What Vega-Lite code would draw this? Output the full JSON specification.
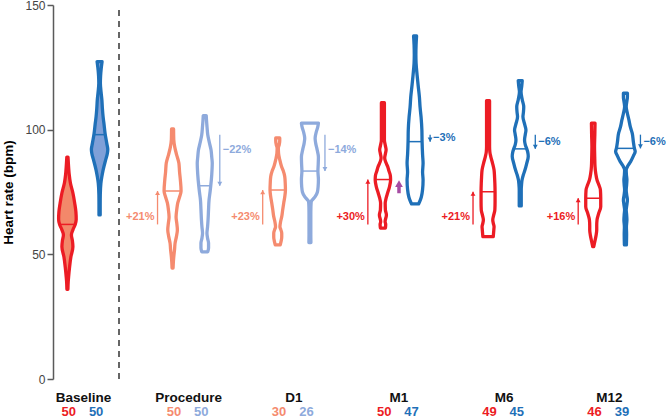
{
  "$schema": "https://vega.github.io/schema/vega-lite/v6.json",
  "width": 613,
  "height": 374,
  "autosize": {"type": "none"},
  "padding": {"left": 53, "top": 5, "right": 0, "bottom": 40},
  "config": {
    "view": {"stroke": null},
    "font": "Liberation Sans",
    "axisY": {"grid": false, "domainColor": "#5a5a5a", "domainWidth": 1.5, "tickColor": "#5a5a5a", "tickWidth": 1.5, "tickSize": 6, "labelFontSize": 12, "labelColor": "#444444", "labelPadding": 2, "titleFontSize": 13.5, "titleFontWeight": "bold", "titleColor": "#000000", "titlePadding": 9}
  },
  "datasets": {
    "violins": [
      {"g":"Baseline","s":"R","hr":36,"w":0.5},{"g":"Baseline","s":"R","hr":39,"w":0.8},{"g":"Baseline","s":"R","hr":41,"w":1.2},{"g":"Baseline","s":"R","hr":45,"w":2.2},{"g":"Baseline","s":"R","hr":49,"w":3.5},{"g":"Baseline","s":"R","hr":53,"w":5.5},{"g":"Baseline","s":"R","hr":55.5,"w":5},{"g":"Baseline","s":"R","hr":57.8,"w":4},{"g":"Baseline","s":"R","hr":59.8,"w":5.5},{"g":"Baseline","s":"R","hr":62,"w":7.8},{"g":"Baseline","s":"R","hr":64,"w":8.8},{"g":"Baseline","s":"R","hr":67,"w":8.5},{"g":"Baseline","s":"R","hr":70.5,"w":7.3},{"g":"Baseline","s":"R","hr":74.6,"w":5.5},{"g":"Baseline","s":"R","hr":78.6,"w":3},{"g":"Baseline","s":"R","hr":82,"w":1.8},{"g":"Baseline","s":"R","hr":85,"w":1.2},{"g":"Baseline","s":"R","hr":89,"w":0.6},
      {"g":"Baseline","s":"B","hr":65.8,"w":0.6},{"g":"Baseline","s":"B","hr":70,"w":0.6},{"g":"Baseline","s":"B","hr":74,"w":0.7},{"g":"Baseline","s":"B","hr":78.5,"w":1.3},{"g":"Baseline","s":"B","hr":81,"w":2.2},{"g":"Baseline","s":"B","hr":83.8,"w":3.5},{"g":"Baseline","s":"B","hr":87.8,"w":6},{"g":"Baseline","s":"B","hr":90.5,"w":7.8},{"g":"Baseline","s":"B","hr":92,"w":8.2},{"g":"Baseline","s":"B","hr":94.5,"w":7.2},{"g":"Baseline","s":"B","hr":98.5,"w":5.5},{"g":"Baseline","s":"B","hr":102,"w":4.5},{"g":"Baseline","s":"B","hr":105.2,"w":3.5},{"g":"Baseline","s":"B","hr":108.5,"w":2.8},{"g":"Baseline","s":"B","hr":111.9,"w":2.3},{"g":"Baseline","s":"B","hr":115,"w":1.5},{"g":"Baseline","s":"B","hr":118.6,"w":0.8},{"g":"Baseline","s":"B","hr":121.5,"w":1},{"g":"Baseline","s":"B","hr":124,"w":1.5},{"g":"Baseline","s":"B","hr":127.3,"w":2.5},
      {"g":"Procedure","s":"R","hr":44.5,"w":0.5},{"g":"Procedure","s":"R","hr":47,"w":0.8},{"g":"Procedure","s":"R","hr":49,"w":1.2},{"g":"Procedure","s":"R","hr":52,"w":2},{"g":"Procedure","s":"R","hr":54.5,"w":2.5},{"g":"Procedure","s":"R","hr":57,"w":3.8},{"g":"Procedure","s":"R","hr":59.8,"w":4.8},{"g":"Procedure","s":"R","hr":62.5,"w":4.2},{"g":"Procedure","s":"R","hr":65,"w":3.5},{"g":"Procedure","s":"R","hr":68,"w":4.2},{"g":"Procedure","s":"R","hr":70.6,"w":5.2},{"g":"Procedure","s":"R","hr":73,"w":7},{"g":"Procedure","s":"R","hr":75.4,"w":8.5},{"g":"Procedure","s":"R","hr":79.8,"w":7.8},{"g":"Procedure","s":"R","hr":83,"w":7},{"g":"Procedure","s":"R","hr":86.6,"w":6.3},{"g":"Procedure","s":"R","hr":90,"w":4},{"g":"Procedure","s":"R","hr":93,"w":2.2},{"g":"Procedure","s":"R","hr":96,"w":1.2},{"g":"Procedure","s":"R","hr":100.3,"w":1},
      {"g":"Procedure","s":"B","hr":51,"w":3},{"g":"Procedure","s":"B","hr":52.5,"w":3.8},{"g":"Procedure","s":"B","hr":54.5,"w":3.8},{"g":"Procedure","s":"B","hr":56.5,"w":2.8},{"g":"Procedure","s":"B","hr":58.5,"w":2.2},{"g":"Procedure","s":"B","hr":61,"w":2.8},{"g":"Procedure","s":"B","hr":63.8,"w":3.3},{"g":"Procedure","s":"B","hr":68,"w":3.8},{"g":"Procedure","s":"B","hr":71.8,"w":4.3},{"g":"Procedure","s":"B","hr":75,"w":5.3},{"g":"Procedure","s":"B","hr":77.5,"w":6},{"g":"Procedure","s":"B","hr":82,"w":7},{"g":"Procedure","s":"B","hr":86.6,"w":7.5},{"g":"Procedure","s":"B","hr":89,"w":7},{"g":"Procedure","s":"B","hr":91.8,"w":6.3},{"g":"Procedure","s":"B","hr":95,"w":4.5},{"g":"Procedure","s":"B","hr":98,"w":3},{"g":"Procedure","s":"B","hr":101,"w":2.3},{"g":"Procedure","s":"B","hr":103.5,"w":1.8},{"g":"Procedure","s":"B","hr":105.6,"w":1.5},
      {"g":"D1","s":"R","hr":53.8,"w":2.5},{"g":"D1","s":"R","hr":55.5,"w":3.5},{"g":"D1","s":"R","hr":57,"w":4},{"g":"D1","s":"R","hr":58.5,"w":4},{"g":"D1","s":"R","hr":60,"w":3},{"g":"D1","s":"R","hr":61,"w":2.2},{"g":"D1","s":"R","hr":63,"w":2.8},{"g":"D1","s":"R","hr":65.1,"w":4},{"g":"D1","s":"R","hr":68,"w":5},{"g":"D1","s":"R","hr":70.6,"w":6},{"g":"D1","s":"R","hr":73,"w":7},{"g":"D1","s":"R","hr":75.8,"w":7.7},{"g":"D1","s":"R","hr":78.5,"w":7.5},{"g":"D1","s":"R","hr":81.2,"w":7},{"g":"D1","s":"R","hr":83.5,"w":5.5},{"g":"D1","s":"R","hr":85.2,"w":3.8},{"g":"D1","s":"R","hr":88,"w":2},{"g":"D1","s":"R","hr":90.6,"w":0.8},{"g":"D1","s":"R","hr":92.6,"w":0.6},{"g":"D1","s":"R","hr":94,"w":1.5},{"g":"D1","s":"R","hr":95.5,"w":2},{"g":"D1","s":"R","hr":96.7,"w":2},
      {"g":"D1","s":"B","hr":54.7,"w":1},{"g":"D1","s":"B","hr":58,"w":0.9},{"g":"D1","s":"B","hr":62,"w":0.9},{"g":"D1","s":"B","hr":66,"w":0.9},{"g":"D1","s":"B","hr":69,"w":1},{"g":"D1","s":"B","hr":71.1,"w":1.3},{"g":"D1","s":"B","hr":73.1,"w":5.2},{"g":"D1","s":"B","hr":75,"w":7.5},{"g":"D1","s":"B","hr":77.1,"w":8.2},{"g":"D1","s":"B","hr":80,"w":8.5},{"g":"D1","s":"B","hr":83.4,"w":8},{"g":"D1","s":"B","hr":86,"w":8.3},{"g":"D1","s":"B","hr":89,"w":8.5},{"g":"D1","s":"B","hr":92,"w":7.2},{"g":"D1","s":"B","hr":94.5,"w":5.8},{"g":"D1","s":"B","hr":96.6,"w":5.2},{"g":"D1","s":"B","hr":99,"w":6.3},{"g":"D1","s":"B","hr":101,"w":7.8},{"g":"D1","s":"B","hr":102.6,"w":8.5},
      {"g":"M1","s":"R","hr":60.5,"w":2.5},{"g":"M1","s":"R","hr":62,"w":2.8},{"g":"M1","s":"R","hr":63.1,"w":2.2},{"g":"M1","s":"R","hr":65.8,"w":3.5},{"g":"M1","s":"R","hr":67.8,"w":2.5},{"g":"M1","s":"R","hr":70.6,"w":2.3},{"g":"M1","s":"R","hr":72.5,"w":3.2},{"g":"M1","s":"R","hr":74.6,"w":4.7},{"g":"M1","s":"R","hr":77,"w":6.5},{"g":"M1","s":"R","hr":79.8,"w":7.7},{"g":"M1","s":"R","hr":81.5,"w":7.5},{"g":"M1","s":"R","hr":83.5,"w":6},{"g":"M1","s":"R","hr":85.2,"w":4.8},{"g":"M1","s":"R","hr":87,"w":2.8},{"g":"M1","s":"R","hr":88.6,"w":1.8},{"g":"M1","s":"R","hr":90.3,"w":2.5},{"g":"M1","s":"R","hr":91.9,"w":3.2},{"g":"M1","s":"R","hr":93.5,"w":2.5},{"g":"M1","s":"R","hr":95.9,"w":1.5},{"g":"M1","s":"R","hr":100,"w":1.5},{"g":"M1","s":"R","hr":105,"w":1.5},{"g":"M1","s":"R","hr":110.8,"w":1.5},
      {"g":"M1","s":"B","hr":70.2,"w":3.5},{"g":"M1","s":"B","hr":71.5,"w":5},{"g":"M1","s":"B","hr":73.1,"w":6.3},{"g":"M1","s":"B","hr":76,"w":7.5},{"g":"M1","s":"B","hr":79.8,"w":8},{"g":"M1","s":"B","hr":83,"w":7.5},{"g":"M1","s":"B","hr":86.6,"w":8},{"g":"M1","s":"B","hr":90,"w":7.5},{"g":"M1","s":"B","hr":95.2,"w":7},{"g":"M1","s":"B","hr":99.9,"w":6.8},{"g":"M1","s":"B","hr":105,"w":6},{"g":"M1","s":"B","hr":109,"w":5},{"g":"M1","s":"B","hr":113.2,"w":4.3},{"g":"M1","s":"B","hr":118,"w":3},{"g":"M1","s":"B","hr":122,"w":2},{"g":"M1","s":"B","hr":126.7,"w":1},{"g":"M1","s":"B","hr":130,"w":0.8},{"g":"M1","s":"B","hr":134,"w":1},{"g":"M1","s":"B","hr":137.6,"w":1.5},
      {"g":"M6","s":"R","hr":57.1,"w":5.2},{"g":"M6","s":"R","hr":58.5,"w":5.5},{"g":"M6","s":"R","hr":60,"w":5.8},{"g":"M6","s":"R","hr":61.1,"w":6},{"g":"M6","s":"R","hr":62.5,"w":5.2},{"g":"M6","s":"R","hr":63.8,"w":4.7},{"g":"M6","s":"R","hr":65.5,"w":5.5},{"g":"M6","s":"R","hr":67.8,"w":6.8},{"g":"M6","s":"R","hr":71,"w":7},{"g":"M6","s":"R","hr":75.1,"w":7},{"g":"M6","s":"R","hr":78.5,"w":6.8},{"g":"M6","s":"R","hr":81,"w":6.5},{"g":"M6","s":"R","hr":83.8,"w":6},{"g":"M6","s":"R","hr":86.5,"w":4.5},{"g":"M6","s":"R","hr":89.2,"w":2.7},{"g":"M6","s":"R","hr":91,"w":1.8},{"g":"M6","s":"R","hr":93.2,"w":1.5},{"g":"M6","s":"R","hr":100,"w":1.5},{"g":"M6","s":"R","hr":106,"w":1.5},{"g":"M6","s":"R","hr":111.6,"w":1.5},
      {"g":"M6","s":"B","hr":69.4,"w":1},{"g":"M6","s":"B","hr":72,"w":1},{"g":"M6","s":"B","hr":75.8,"w":1},{"g":"M6","s":"B","hr":78,"w":1.3},{"g":"M6","s":"B","hr":79.8,"w":1.8},{"g":"M6","s":"B","hr":82,"w":3.2},{"g":"M6","s":"B","hr":83.8,"w":4.7},{"g":"M6","s":"B","hr":86.5,"w":6.5},{"g":"M6","s":"B","hr":89.2,"w":8},{"g":"M6","s":"B","hr":91,"w":7.5},{"g":"M6","s":"B","hr":92.3,"w":6.5},{"g":"M6","s":"B","hr":94,"w":5},{"g":"M6","s":"B","hr":95.9,"w":4.3},{"g":"M6","s":"B","hr":98,"w":5},{"g":"M6","s":"B","hr":99.9,"w":5.7},{"g":"M6","s":"B","hr":102,"w":4.5},{"g":"M6","s":"B","hr":105.2,"w":2.7},{"g":"M6","s":"B","hr":107,"w":3.2},{"g":"M6","s":"B","hr":109.2,"w":3.5},{"g":"M6","s":"B","hr":112,"w":2},{"g":"M6","s":"B","hr":115.2,"w":0.8},{"g":"M6","s":"B","hr":117.5,"w":1.5},{"g":"M6","s":"B","hr":119.7,"w":2},
      {"g":"M12","s":"R","hr":53.1,"w":0.5},{"g":"M12","s":"R","hr":55,"w":1.5},{"g":"M12","s":"R","hr":57.5,"w":2.8},{"g":"M12","s":"R","hr":59.8,"w":3.5},{"g":"M12","s":"R","hr":61.5,"w":3.5},{"g":"M12","s":"R","hr":63.8,"w":3.8},{"g":"M12","s":"R","hr":66.5,"w":5.5},{"g":"M12","s":"R","hr":69.1,"w":7.5},{"g":"M12","s":"R","hr":72.5,"w":7.5},{"g":"M12","s":"R","hr":75.8,"w":7.2},{"g":"M12","s":"R","hr":78,"w":5.5},{"g":"M12","s":"R","hr":79.8,"w":3.8},{"g":"M12","s":"R","hr":82.5,"w":2.5},{"g":"M12","s":"R","hr":85.2,"w":1.8},{"g":"M12","s":"R","hr":89,"w":1.5},{"g":"M12","s":"R","hr":93.2,"w":1.3},{"g":"M12","s":"R","hr":98,"w":1.6},{"g":"M12","s":"R","hr":102.6,"w":1.8},
      {"g":"M12","s":"B","hr":53.8,"w":1},{"g":"M12","s":"B","hr":58,"w":1.2},{"g":"M12","s":"B","hr":61,"w":1},{"g":"M12","s":"B","hr":63.8,"w":1.5},{"g":"M12","s":"B","hr":66,"w":1.2},{"g":"M12","s":"B","hr":67.8,"w":0.8},{"g":"M12","s":"B","hr":70,"w":1.5},{"g":"M12","s":"B","hr":71.8,"w":2},{"g":"M12","s":"B","hr":73.8,"w":1.3},{"g":"M12","s":"B","hr":75.8,"w":0.8},{"g":"M12","s":"B","hr":77.8,"w":1.2},{"g":"M12","s":"B","hr":79.8,"w":1.5},{"g":"M12","s":"B","hr":82,"w":1},{"g":"M12","s":"B","hr":83.8,"w":0.8},{"g":"M12","s":"B","hr":85.5,"w":2.5},{"g":"M12","s":"B","hr":87.2,"w":5.2},{"g":"M12","s":"B","hr":89.5,"w":8},{"g":"M12","s":"B","hr":91.2,"w":9.8},{"g":"M12","s":"B","hr":92.5,"w":9},{"g":"M12","s":"B","hr":95,"w":8},{"g":"M12","s":"B","hr":98.6,"w":6.8},{"g":"M12","s":"B","hr":101,"w":5},{"g":"M12","s":"B","hr":103.9,"w":3.5},{"g":"M12","s":"B","hr":106.5,"w":2},{"g":"M12","s":"B","hr":109.2,"w":0.8},{"g":"M12","s":"B","hr":111.5,"w":1.5},{"g":"M12","s":"B","hr":113,"w":2},{"g":"M12","s":"B","hr":114.6,"w":2}
    ],
    "medians": [
      {"g":"Baseline","s":"R","m":62,"w":7.8},{"g":"Baseline","s":"B","m":98,"w":5.5},
      {"g":"Procedure","s":"R","m":75.4,"w":8.5},{"g":"Procedure","s":"B","m":77.5,"w":6},
      {"g":"D1","s":"R","m":75.8,"w":7.7},{"g":"D1","s":"B","m":83.4,"w":8},
      {"g":"M1","s":"R","m":80,"w":7.7},{"g":"M1","s":"B","m":95.2,"w":7},
      {"g":"M6","s":"R","m":75.1,"w":7},{"g":"M6","s":"B","m":92.3,"w":6.5},
      {"g":"M12","s":"R","m":72.5,"w":7.5},{"g":"M12","s":"B","m":92.5,"w":9}
    ],
    "arrows": [
      {"g":"Procedure","s":"R","from":62,"to":75.4,"label":"+21%"},
      {"g":"Procedure","s":"B","from":98,"to":77.5,"label":"\u221222%"},
      {"g":"D1","s":"R","from":62,"to":75.8,"label":"+23%"},
      {"g":"D1","s":"B","from":98,"to":83.4,"label":"\u221214%"},
      {"g":"M1","s":"R","from":62,"to":80,"label":"+30%"},
      {"g":"M1","s":"B","from":98,"to":95.2,"label":"\u22123%"},
      {"g":"M6","s":"R","from":62,"to":75.1,"label":"+21%"},
      {"g":"M6","s":"B","from":98,"to":92.3,"label":"\u22126%"},
      {"g":"M12","s":"R","from":62,"to":72.5,"label":"+16%"},
      {"g":"M12","s":"B","from":98,"to":92.5,"label":"\u22126%"}
    ],
    "counts": [
      {"g":"Baseline","s":"R","n":50},{"g":"Baseline","s":"B","n":50},
      {"g":"Procedure","s":"R","n":50},{"g":"Procedure","s":"B","n":50},
      {"g":"D1","s":"R","n":30},{"g":"D1","s":"B","n":26},
      {"g":"M1","s":"R","n":50},{"g":"M1","s":"B","n":47},
      {"g":"M6","s":"R","n":49},{"g":"M6","s":"B","n":45},
      {"g":"M12","s":"R","n":46},{"g":"M12","s":"B","n":39}
    ],
    "highlight": [
      {"g":"M1","from":74.5,"to":78.2,"head":78.4}
    ]
  },
  "layer": [
    {
      "data": {"name": "violins"},
      "transform": [
        {"calculate": "indexof(['Baseline','Procedure','D1','M1','M6','M12'], datum.g) + (datum.s == 'R' ? -0.153 : 0.153)", "as": "c"},
        {"calculate": "datum.c - datum.w / 105.16", "as": "xl"},
        {"calculate": "datum.c + datum.w / 105.16", "as": "xr"},
        {"calculate": "datum.s + ((datum.g == 'Procedure' || datum.g == 'D1') ? 'l' : 'd')", "as": "tone"},
        {"calculate": "datum.g == 'Baseline' ? datum.s : 'none'", "as": "fk"}
      ],
      "mark": {"type": "area", "orient": "horizontal", "interpolate": "monotone", "strokeWidth": 3.3, "strokeJoin": "round", "fillOpacity": 1},
      "encoding": {
        "y": {"field": "hr", "type": "quantitative", "title": "Heart rate (bpm)", "scale": {"domain": [0, 150], "nice": false, "zero": false}, "axis": {"values": [0, 50, 100, 150]}},
        "x": {"field": "xl", "type": "quantitative", "stack": null, "scale": {"domain": [-0.29, 5.539], "nice": false, "zero": false}, "axis": null},
        "x2": {"field": "xr"},
        "stroke": {"field": "tone", "type": "nominal", "scale": {"domain": ["Rd","Rl","Bd","Bl"], "range": ["#ec1c24","#f58b6f","#1f70b8","#8eaadc"]}, "legend": null},
        "fill": {"field": "fk", "type": "nominal", "scale": {"domain": ["R","B","none"], "range": ["#f3886a","#7fa0d8","#ffffff"]}, "legend": null},
        "detail": {"field": "g"}
      }
    },
    {
      "data": {"name": "medians"},
      "transform": [
        {"calculate": "indexof(['Baseline','Procedure','D1','M1','M6','M12'], datum.g) + (datum.s == 'R' ? -0.153 : 0.153)", "as": "c"},
        {"calculate": "datum.c - datum.w / 105.16", "as": "xl"},
        {"calculate": "datum.c + datum.w / 105.16", "as": "xr"},
        {"calculate": "datum.s + ((datum.g == 'Procedure' || datum.g == 'D1') ? 'l' : 'd')", "as": "tone"}
      ],
      "mark": {"type": "rule", "strokeWidth": 1.5},
      "encoding": {
        "y": {"field": "m", "type": "quantitative", "title": "Heart rate (bpm)", "scale": {"domain": [0, 150], "nice": false, "zero": false}, "axis": {"values": [0, 50, 100, 150]}},
        "x": {"field": "xl", "type": "quantitative", "scale": {"domain": [-0.29, 5.539], "nice": false, "zero": false}, "axis": null},
        "x2": {"field": "xr"},
        "color": {"field": "tone", "type": "nominal", "scale": {"domain": ["Rd","Rl","Bd","Bl"], "range": ["#ec1c24","#f58b6f","#1f70b8","#8eaadc"]}, "legend": null}
      }
    },
    {
      "data": {"name": "arrows"},
      "transform": [
        {"calculate": "indexof(['Baseline','Procedure','D1','M1','M6','M12'], datum.g) + (datum.s == 'R' ? -0.296 : 0.296)", "as": "ax"},
        {"calculate": "datum.s + ((datum.g == 'Procedure' || datum.g == 'D1') ? 'l' : 'd')", "as": "tone"},
        {"calculate": "datum.s == 'R' ? datum.from + 3 : max(datum.from - 6, (datum.from + datum.to) / 2)", "as": "ly"}
      ],
      "layer": [
        {
          "mark": {"type": "rule", "strokeWidth": 1.3},
          "encoding": {
            "y": {"field": "from", "type": "quantitative", "title": "Heart rate (bpm)", "scale": {"domain": [0, 150], "nice": false, "zero": false}, "axis": {"values": [0, 50, 100, 150]}},
            "y2": {"field": "to"},
            "x": {"field": "ax", "type": "quantitative", "scale": {"domain": [-0.29, 5.539], "nice": false, "zero": false}, "axis": null},
            "color": {"field": "tone", "type": "nominal", "scale": {"domain": ["Rd","Rl","Bd","Bl"], "range": ["#ec1c24","#f58b6f","#1f70b8","#8eaadc"]}, "legend": null}
          }
        },
        {
          "transform": [{"filter": "datum.s == 'R'"}],
          "mark": {"type": "point", "shape": "triangle-up", "filled": true, "size": 24, "opacity": 1, "yOffset": 2},
          "encoding": {
            "y": {"field": "to", "type": "quantitative", "title": "Heart rate (bpm)", "scale": {"domain": [0, 150], "nice": false, "zero": false}, "axis": {"values": [0, 50, 100, 150]}},
            "x": {"field": "ax", "type": "quantitative", "scale": {"domain": [-0.29, 5.539], "nice": false, "zero": false}, "axis": null},
            "color": {"field": "tone", "type": "nominal", "scale": {"domain": ["Rd","Rl","Bd","Bl"], "range": ["#ec1c24","#f58b6f","#1f70b8","#8eaadc"]}, "legend": null}
          }
        },
        {
          "transform": [{"filter": "datum.s == 'B'"}],
          "mark": {"type": "point", "shape": "triangle-down", "filled": true, "size": 24, "opacity": 1, "yOffset": -2},
          "encoding": {
            "y": {"field": "to", "type": "quantitative", "title": "Heart rate (bpm)", "scale": {"domain": [0, 150], "nice": false, "zero": false}, "axis": {"values": [0, 50, 100, 150]}},
            "x": {"field": "ax", "type": "quantitative", "scale": {"domain": [-0.29, 5.539], "nice": false, "zero": false}, "axis": null},
            "color": {"field": "tone", "type": "nominal", "scale": {"domain": ["Rd","Rl","Bd","Bl"], "range": ["#ec1c24","#f58b6f","#1f70b8","#8eaadc"]}, "legend": null}
          }
        },
        {
          "transform": [{"filter": "datum.s == 'R'"}],
          "mark": {"type": "text", "align": "right", "baseline": "middle", "dx": -3, "fontSize": 11, "fontWeight": "bold"},
          "encoding": {
            "y": {"field": "ly", "type": "quantitative", "title": "Heart rate (bpm)", "scale": {"domain": [0, 150], "nice": false, "zero": false}, "axis": {"values": [0, 50, 100, 150]}},
            "x": {"field": "ax", "type": "quantitative", "scale": {"domain": [-0.29, 5.539], "nice": false, "zero": false}, "axis": null},
            "text": {"field": "label"},
            "color": {"field": "tone", "type": "nominal", "scale": {"domain": ["Rd","Rl","Bd","Bl"], "range": ["#ec1c24","#f58b6f","#1f70b8","#8eaadc"]}, "legend": null}
          }
        },
        {
          "transform": [{"filter": "datum.s == 'B'"}],
          "mark": {"type": "text", "align": "left", "baseline": "middle", "dx": 3, "fontSize": 11, "fontWeight": "bold"},
          "encoding": {
            "y": {"field": "ly", "type": "quantitative", "title": "Heart rate (bpm)", "scale": {"domain": [0, 150], "nice": false, "zero": false}, "axis": {"values": [0, 50, 100, 150]}},
            "x": {"field": "ax", "type": "quantitative", "scale": {"domain": [-0.29, 5.539], "nice": false, "zero": false}, "axis": null},
            "text": {"field": "label"},
            "color": {"field": "tone", "type": "nominal", "scale": {"domain": ["Rd","Rl","Bd","Bl"], "range": ["#ec1c24","#f58b6f","#1f70b8","#8eaadc"]}, "legend": null}
          }
        }
      ]
    },
    {
      "data": {"name": "highlight"},
      "transform": [
        {"calculate": "indexof(['Baseline','Procedure','D1','M1','M6','M12'], datum.g)", "as": "hx"}
      ],
      "layer": [
        {
          "mark": {"type": "rule", "strokeWidth": 3.5, "color": "#a64ca3"},
          "encoding": {
            "y": {"field": "from", "type": "quantitative", "title": "Heart rate (bpm)", "scale": {"domain": [0, 150], "nice": false, "zero": false}, "axis": {"values": [0, 50, 100, 150]}},
            "y2": {"field": "to"},
            "x": {"field": "hx", "type": "quantitative", "scale": {"domain": [-0.29, 5.539], "nice": false, "zero": false}, "axis": null}
          }
        },
        {
          "mark": {"type": "point", "shape": "triangle-up", "filled": true, "size": 60, "opacity": 1, "color": "#a64ca3"},
          "encoding": {
            "y": {"field": "head", "type": "quantitative", "title": "Heart rate (bpm)", "scale": {"domain": [0, 150], "nice": false, "zero": false}, "axis": {"values": [0, 50, 100, 150]}},
            "x": {"field": "hx", "type": "quantitative", "scale": {"domain": [-0.29, 5.539], "nice": false, "zero": false}, "axis": null}
          }
        }
      ]
    },
    {
      "data": {"name": "counts"},
      "transform": [
        {"calculate": "indexof(['Baseline','Procedure','D1','M1','M6','M12'], datum.g)", "as": "gi"},
        {"calculate": "datum.gi + (datum.s == 'R' ? -0.14 : 0.12)", "as": "cx"},
        {"calculate": "datum.s + ((datum.g == 'Procedure' || datum.g == 'D1') ? 'l' : 'd')", "as": "tone"}
      ],
      "layer": [
        {
          "mark": {"type": "text", "align": "center", "baseline": "middle", "fontSize": 13, "fontWeight": "bold"},
          "encoding": {
            "y": {"datum": -13.2, "type": "quantitative", "title": "Heart rate (bpm)", "scale": {"domain": [0, 150], "nice": false, "zero": false}, "axis": {"values": [0, 50, 100, 150]}},
            "x": {"field": "cx", "type": "quantitative", "scale": {"domain": [-0.29, 5.539], "nice": false, "zero": false}, "axis": null},
            "text": {"field": "n"},
            "color": {"field": "tone", "type": "nominal", "scale": {"domain": ["Rd","Rl","Bd","Bl"], "range": ["#ec1c24","#f58b6f","#1f70b8","#8eaadc"]}, "legend": null}
          }
        },
        {
          "transform": [{"filter": "datum.s == 'R'"}],
          "mark": {"type": "text", "align": "center", "baseline": "alphabetic", "fontSize": 13.5, "fontWeight": "bold", "color": "#111111"},
          "encoding": {
            "y": {"datum": -9.1, "type": "quantitative", "title": "Heart rate (bpm)", "scale": {"domain": [0, 150], "nice": false, "zero": false}, "axis": {"values": [0, 50, 100, 150]}},
            "x": {"field": "gi", "type": "quantitative", "scale": {"domain": [-0.29, 5.539], "nice": false, "zero": false}, "axis": null},
            "text": {"field": "g"}
          }
        }
      ]
    },
    {
      "data": {"values": [{"sep": "Baseline|Procedure"}]},
      "mark": {"type": "rule", "strokeDash": [6, 5], "strokeWidth": 1.5, "color": "#333333"},
      "encoding": {
        "x": {"datum": 0.3376, "type": "quantitative", "scale": {"domain": [-0.29, 5.539], "nice": false, "zero": false}, "axis": null},
        "y": {"datum": 0, "type": "quantitative", "title": "Heart rate (bpm)", "scale": {"domain": [0, 150], "nice": false, "zero": false}, "axis": {"values": [0, 50, 100, 150]}},
        "y2": {"datum": 150}
      }
    }
  ]
}
